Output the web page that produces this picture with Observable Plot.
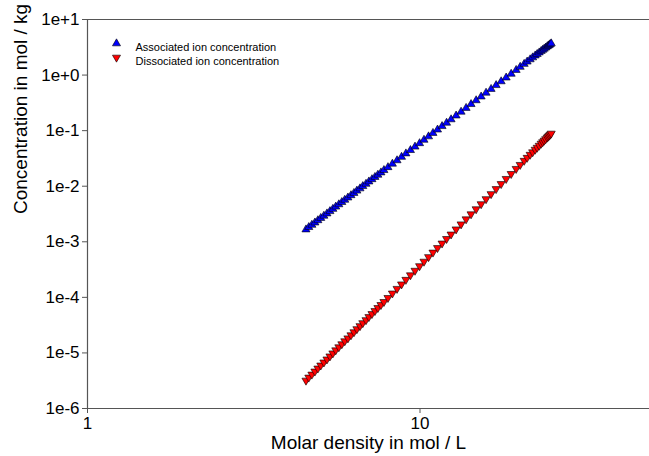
<!DOCTYPE html>
<html>
<head>
<meta charset="utf-8">
<script src="https://cdn.jsdelivr.net/npm/d3@7"></script>
<script src="https://cdn.jsdelivr.net/npm/@observablehq/plot@0.6"></script>
<style>
  html, body { margin: 0; padding: 0; background: #fff; }
  #chart svg { display: block; }
</style>
</head>
<body>
<div id="chart"></div>
<script>
// Molar density in mol / L
const density = [4.54, 4.63, 4.73, 4.83, 4.93, 5.03, 5.14, 5.25, 5.36, 5.47, 5.58, 5.70, 5.82, 5.94, 6.07, 6.20, 6.33, 6.46, 6.60, 6.73, 6.88, 7.02, 7.17, 7.32, 7.47, 7.63, 7.79,
  8.01, 8.26, 8.53, 8.80, 9.07, 9.36, 9.66, 9.97, 10.28, 10.61, 10.94, 11.29, 11.65, 12.02, 12.40,
  12.84, 13.29, 13.76, 14.24, 14.75, 15.27, 15.80, 16.36, 16.94, 17.54, 18.16, 18.80, 19.46, 20.01, 20.57, 21.00,
  21.44, 21.82, 22.20, 22.51, 22.83, 23.14, 23.39, 23.63, 23.88, 24.13, 24.30, 24.47, 24.64, 24.81];

// Associated ion concentration, mol / kg
const associated = [0.00166, 0.00183, 0.00201, 0.00221, 0.00243, 0.00267, 0.00293, 0.00322, 0.00354, 0.00389, 0.00427, 0.00470, 0.00516, 0.00567, 0.00623, 0.00685, 0.00753, 0.00828, 0.00909, 0.00999, 0.0110, 0.0121, 0.0133, 0.0146, 0.0160, 0.0176, 0.0194,
  0.0219, 0.0253, 0.0291, 0.0336, 0.0387, 0.0445, 0.0513, 0.0591, 0.0681, 0.0784, 0.0904, 0.104, 0.120, 0.138, 0.159,
  0.186, 0.218, 0.255, 0.299, 0.350, 0.409, 0.479, 0.560, 0.656, 0.768, 0.898, 1.05, 1.23, 1.40, 1.58, 1.74,
  1.91, 2.07, 2.24, 2.38, 2.54, 2.70, 2.83, 2.97, 3.11, 3.26, 3.37, 3.47, 3.59, 3.70];

// Dissociated ion concentration, mol / kg
const dissociated = [3.19e-6, 3.62e-6, 4.10e-6, 4.65e-6, 5.27e-6, 5.97e-6, 6.77e-6, 7.67e-6, 8.70e-6, 9.86e-6, 1.12e-5, 1.27e-5, 1.44e-5, 1.63e-5, 1.84e-5, 2.09e-5, 2.37e-5, 2.69e-5, 3.05e-5, 3.45e-5, 3.91e-5, 4.44e-5, 5.03e-5, 5.70e-5, 6.46e-5, 7.32e-5, 8.30e-5,
  9.81e-5, 1.18e-4, 1.43e-4, 1.72e-4, 2.08e-4, 2.51e-4, 3.03e-4, 3.66e-4, 4.41e-4, 5.33e-4, 6.43e-4, 7.76e-4, 9.36e-4, 1.13e-3, 1.36e-3,
  1.68e-3, 2.07e-3, 2.55e-3, 3.14e-3, 3.87e-3, 4.77e-3, 5.88e-3, 7.25e-3, 8.93e-3, 0.0110, 0.0136, 0.0167, 0.0206, 0.0243, 0.0288, 0.0326,
  0.0370, 0.0410, 0.0456, 0.0495, 0.0538, 0.0585, 0.0623, 0.0663, 0.0706, 0.0752, 0.0784, 0.0817, 0.0852, 0.0889];

const seriesNames = ["Associated ion concentration", "Dissociated ion concentration"];
const xTicks = [1, 10];
const xTickLabels = ["1", "10"];
const yTicks = [1e-6, 1e-5, 1e-4, 1e-3, 1e-2, 1e-1, 1, 10];
const yTickLabels = ["1e-6", "1e-5", "1e-4", "1e-3", "1e-2", "1e-1", "1e+0", "1e+1"];
const xDomain = [1, 49];
const yDomain = [1e-6, 10];
const xTitle = "Molar density in mol / L";
const yTitle = "Concentration in mol / kg";

const assocData = density.map((d, i) => ({x: d, y: associated[i]}));
const dissocData = density.map((d, i) => ({x: d, y: dissociated[i]}));

const axisColor = "#555";
const font = "Arial, 'Liberation Sans', sans-serif";

const chart = Plot.plot({
  width: 649,
  height: 456,
  marginLeft: 87,
  marginRight: 0,
  marginTop: 19,
  marginBottom: 48,
  style: {fontFamily: font, background: "#fff", color: "#000"},
  x: {type: "log", domain: xDomain},
  y: {type: "log", domain: yDomain},
  marks: [
    Plot.axisX({ticks: xTicks, tickFormat: d => xTickLabels[xTicks.indexOf(d)], tickSize: 5, tickPadding: 3, fontSize: 17, label: null, stroke: axisColor}),
    Plot.axisY({ticks: yTicks, tickFormat: d => yTickLabels[yTicks.indexOf(d)], tickSize: 5, tickPadding: 3, fontSize: 17, label: null, stroke: axisColor}),
    Plot.ruleY([yDomain[0], yDomain[1]], {stroke: axisColor, strokeWidth: 1.2}),
    Plot.ruleX([xDomain[0]], {stroke: axisColor, strokeWidth: 1.2}),
    Plot.dot(dissocData, {x: "x", y: "y", symbol: "triangle", rotate: 180, r: 3, fill: "#ff0000", stroke: "#000", strokeWidth: 0.6}),
    Plot.dot(assocData, {x: "x", y: "y", symbol: "triangle", r: 3, fill: "#0000ff", stroke: "#000", strokeWidth: 0.6}),
    // legend
    Plot.dot([seriesNames[0]], {frameAnchor: "top-left", dx: 29, dy: 24, symbol: "triangle", r: 3, fill: "#0000ff", stroke: "#000", strokeWidth: 0.6}),
    Plot.dot([seriesNames[1]], {frameAnchor: "top-left", dx: 29, dy: 38, symbol: "triangle", rotate: 180, r: 3, fill: "#ff0000", stroke: "#000", strokeWidth: 0.6}),
    Plot.text([seriesNames[0]], {frameAnchor: "top-left", dx: 48, dy: 24, text: d => d, textAnchor: "start", fontSize: 11, fill: "#000"}),
    Plot.text([seriesNames[1]], {frameAnchor: "top-left", dx: 48, dy: 38, text: d => d, textAnchor: "start", fontSize: 11, fill: "#000"}),
    // axis titles
    Plot.text([xTitle], {frameAnchor: "bottom", dy: 40, text: d => d, fontSize: 19, fill: "#000"}),
    Plot.text([yTitle], {frameAnchor: "left", dx: -67, rotate: -90, text: d => d, fontSize: 19, fill: "#000"})
  ]
});

document.getElementById("chart").appendChild(chart);
</script>
</body>
</html>
